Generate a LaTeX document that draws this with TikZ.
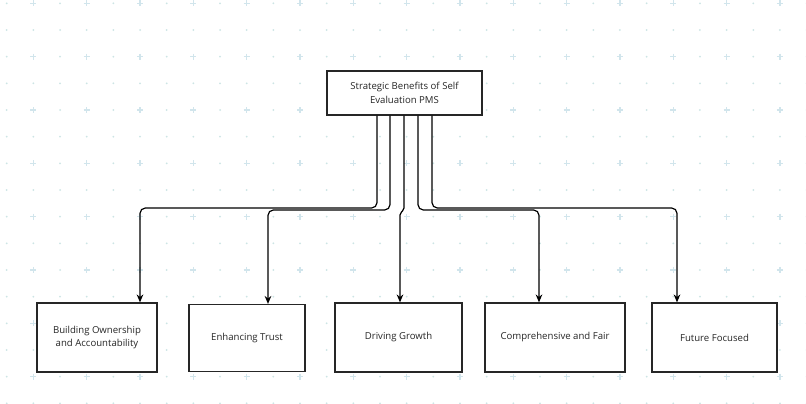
\documentclass[tikz,border=0pt]{standalone}
\usepackage{fontspec}
\setmainfont{Open Sans}
\usetikzlibrary{arrows.meta}
\begin{document}
\begin{tikzpicture}[x=0.75pt,y=-0.75pt,
  box/.style={draw=black!85,line width=0.9pt,fill=white,inner sep=0pt,align=center,font=\fontsize{7.2}{10}\selectfont,text=black!85},
  conn/.style={draw=black,line width=0.9pt,rounded corners=4pt,-{Stealth[length=6pt,width=5pt]}}]
\useasboundingbox (0,0) rectangle (806,403);
\fill[white] (0,0) rectangle (806,403);
\foreach \i in {-6,...,10}{\foreach \j in {-3,...,6}{
  \pgfmathsetmacro\px{300+53.33*\i}\pgfmathsetmacro\py{110+53.33*\j}
  \draw[cyan!25!teal!20,line width=0.8pt] (\px-3,\py)--(\px+3,\py) (\px,\py-3)--(\px,\py+3);
  \fill[teal!20] (\px+26.67,\py) circle (1);
  \fill[teal!20] (\px,\py+26.67) circle (1);
  \fill[teal!20] (\px+26.67,\py+26.67) circle (1);
}}
\node[box,minimum width=155*0.75pt,minimum height=44*0.75pt] (r) at (404.5,93) {Strategic Benefits of Self\\Evaluation PMS};
\node[box,minimum width=120*0.75pt,minimum height=69*0.75pt] (a) at (97,337.5) {Building Ownership\\and Accountability};
\node[box,minimum width=116*0.75pt,minimum height=67*0.75pt] (b) at (247,338) {Enhancing Trust};
\node[box,minimum width=127*0.75pt,minimum height=69*0.75pt] (c) at (398.5,337.5) {Driving Growth};
\node[box,minimum width=140*0.75pt,minimum height=69*0.75pt] (d) at (555,337.5) {Comprehensive and Fair};
\node[box,minimum width=125*0.75pt,minimum height=69*0.75pt] (e) at (714.5,337.5) {Future Focused};
\draw[conn] (r.south -| 377,0) -- (377,208) -- (140,208) -- (a.north -| 140,0);
\draw[conn] (r.south -| 390,0) -- (390,210) -- (268,210) -- (b.north -| 268,0);
\draw[conn,rounded corners=1.5pt] (r.south -| 404,0) -- (404,210) -- (400,213) -- (c.north -| 400,0);
\draw[conn] (r.south -| 418,0) -- (418,210) -- (539,210) -- (d.north -| 539,0);
\draw[conn] (r.south -| 432,0) -- (432,208) -- (677,208) -- (e.north -| 677,0);
\end{tikzpicture}
\end{document}
